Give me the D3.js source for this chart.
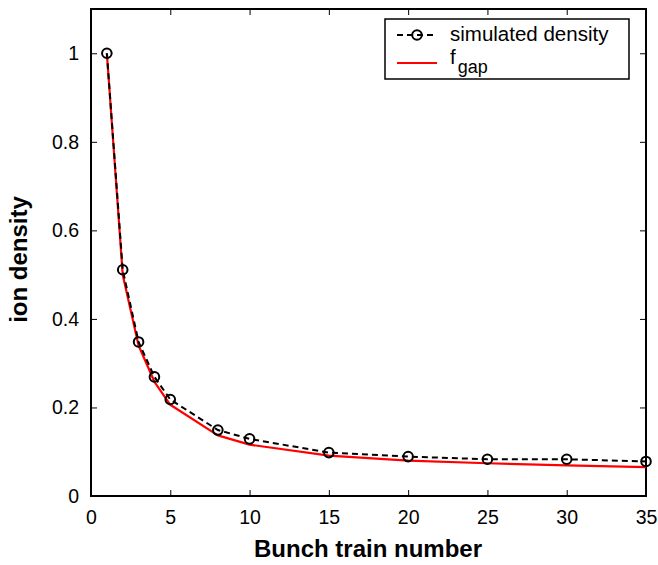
<!DOCTYPE html>
<html>
<head>
<meta charset="utf-8">
<script src="https://d3js.org/d3.v7.min.js"></script>
<style>
  html, body { margin: 0; padding: 0; background: #fff; }
  svg { display: block; font-family: "Liberation Sans", Arial, Helvetica, sans-serif; }
</style>
</head>
<body>
<svg id="chart" width="658" height="565"></svg>
<script>
// Bunch train numbers and ion densities
const trainNumbers = [1, 2, 3, 4, 5, 8, 10, 15, 20, 25, 30, 35];
const simulatedDensity = [1.0, 0.511, 0.348, 0.269, 0.218, 0.149, 0.129, 0.098, 0.089, 0.083, 0.083, 0.078];
const fGap = [1.0, 0.50, 0.34, 0.258, 0.206, 0.137, 0.116, 0.091, 0.080, 0.074, 0.069, 0.065];
const xTicks = [0, 5, 10, 15, 20, 25, 30, 35];
const yTicks = [0, 0.2, 0.4, 0.6, 0.8, 1];

const svg = d3.select("#chart");
const m = { left: 91, right: 646, top: 9, bottom: 496 };

const x = d3.scaleLinear().domain([0, 35]).range([m.left, m.right]);
const y = d3.scaleLinear().domain([0, 1.1]).range([m.bottom, m.top]);

const tickLen = 6;
const axisFont = 19.5;

// Inward ticks on all four sides
const axes = [
  { axis: d3.axisBottom(x).tickValues(xTicks).tickSize(-tickLen).tickPadding(14), tr: `translate(0,${m.bottom})`, labels: true },
  { axis: d3.axisTop(x).tickValues(xTicks).tickSize(-tickLen), tr: `translate(0,${m.top})`, labels: false },
  { axis: d3.axisLeft(y).tickValues(yTicks).tickSize(-tickLen).tickPadding(12).tickFormat(d3.format("~g")), tr: `translate(${m.left},0)`, labels: true },
  { axis: d3.axisRight(y).tickValues(yTicks).tickSize(-tickLen), tr: `translate(${m.right},0)`, labels: false }
];
axes.forEach(a => {
  const g = svg.append("g").attr("transform", a.tr).call(a.axis);
  g.select(".domain").remove();
  g.selectAll(".tick line").attr("stroke", "#000").attr("stroke-width", 1);
  g.selectAll(".tick text")
    .attr("fill", "#000")
    .style("font-size", axisFont + "px")
    .style("font-family", '"Liberation Sans", Arial, sans-serif')
    .style("display", a.labels ? null : "none");
});

// Plot frame
svg.append("rect")
  .attr("x", m.left).attr("y", m.top)
  .attr("width", m.right - m.left).attr("height", m.bottom - m.top)
  .attr("fill", "none").attr("stroke", "#000").attr("stroke-width", 2);

const line = d3.line().x(d => x(d[0])).y(d => y(d[1]));

// f_gap curve
svg.append("path")
  .datum(trainNumbers.map((t, i) => [t, fGap[i]]))
  .attr("d", line)
  .attr("fill", "none").attr("stroke", "#ff0000").attr("stroke-width", 2.2)
  .attr("stroke-linejoin", "round");

// Simulated density, dashed with open circles
const simData = trainNumbers.map((t, i) => [t, simulatedDensity[i]]);
svg.append("path")
  .datum(simData)
  .attr("d", line)
  .attr("fill", "none").attr("stroke", "#000").attr("stroke-width", 2)
  .attr("stroke-dasharray", "6,4");

svg.append("g").selectAll("circle")
  .data(simData)
  .join("circle")
  .attr("cx", d => x(d[0])).attr("cy", d => y(d[1]))
  .attr("r", 4.8)
  .attr("fill", "none").attr("stroke", "#000").attr("stroke-width", 2);

// Axis titles
svg.append("text")
  .attr("x", 368).attr("y", 557)
  .attr("text-anchor", "middle")
  .style("font-size", "24px").style("font-weight", "bold")
  .text("Bunch train number");

svg.append("text")
  .attr("transform", `translate(27,${(m.top + m.bottom) / 2 + 7}) rotate(-90)`)
  .attr("text-anchor", "middle")
  .style("font-size", "24px").style("font-weight", "bold")
  .text("ion density");

// Legend
const lg = svg.append("g");
lg.append("rect")
  .attr("x", 385).attr("y", 19).attr("width", 244).attr("height", 60)
  .attr("fill", "#fff").attr("stroke", "#000").attr("stroke-width", 1.5);
lg.append("line")
  .attr("x1", 397).attr("x2", 437).attr("y1", 35).attr("y2", 35)
  .attr("stroke", "#000").attr("stroke-width", 2).attr("stroke-dasharray", "6,4");
lg.append("circle")
  .attr("cx", 417).attr("cy", 35).attr("r", 4.8)
  .attr("fill", "none").attr("stroke", "#000").attr("stroke-width", 2);
lg.append("text")
  .attr("x", 450).attr("y", 41)
  .style("font-size", "20.5px")
  .text("simulated density");
lg.append("line")
  .attr("x1", 397).attr("x2", 437).attr("y1", 63).attr("y2", 63)
  .attr("stroke", "#ff0000").attr("stroke-width", 2.2);
const ft = lg.append("text").attr("x", 450).attr("y", 64).style("font-size", "20.5px");
ft.append("tspan").text("f");
ft.append("tspan").attr("dx", 2).attr("dy", 9).style("font-size", "18px").text("gap");
</script>
</body>
</html>
